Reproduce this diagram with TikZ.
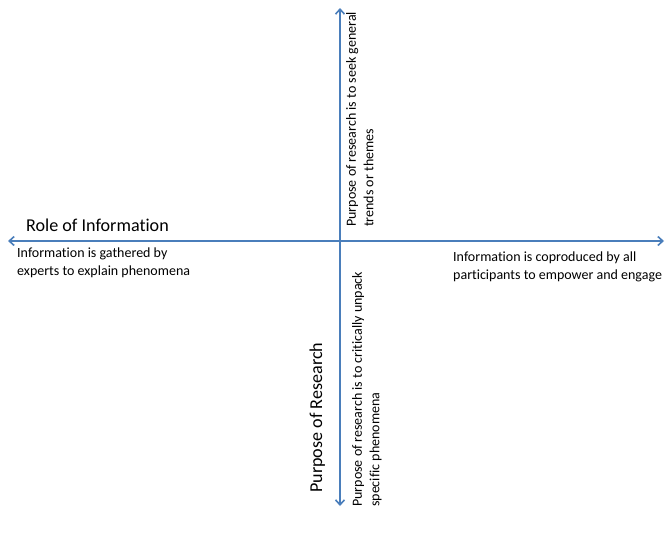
\documentclass[tikz,border=0pt]{standalone}
\usepackage{fontspec}
\setmainfont[Ligatures=NoCommon]{Carlito}
\usetikzlibrary{arrows.meta}
\definecolor{axisblue}{HTML}{4A7EBB}
\begin{document}
\begin{tikzpicture}
    [x=1pt,y=-1pt,
     axis/.style={{Straight Barb[length=5pt,width=9pt]}-{Straight Barb[length=5pt,width=9pt]},axisblue,line width=1.6pt},
     small/.style={font=\fontsize{14}{17.5}\selectfont,align=left,inner sep=0pt},
     big/.style={font=\fontsize{18.1}{22}\selectfont,inner sep=0pt}]
    \useasboundingbox (0,0) rectangle (665,538);
    \coordinate (W) at (8,241);
    \coordinate (E) at (664,241);
    \coordinate (N) at (340,8);
    \coordinate (S) at (340,506);
    \draw [axis] (W) -- (E);
    \draw [axis] (N) -- (S);
    \node [big,anchor=base west] (role) at (26,231) {Role of Information};
    \node [small,anchor=north west] (experts) at (17,248)
      {Information is gathered by\\experts to explain phenomena};
    \node [small,anchor=north west] (coprod) at (453,252)
      {Information is coproduced by all\\participants to empower and engage};
    \node [small,rotate=90,anchor=north west] (general) at (346,227)
      {Purpose of research is to seek general\\trends or themes};
    \node [small,rotate=90,anchor=north west] (unpack) at (352,507)
      {Purpose of research is to critically unpack\\specific phenomena};
    \node [big,rotate=90,anchor=base west] (purpose) at (322,493) {Purpose of Research};
  \end{tikzpicture}
\end{document}
